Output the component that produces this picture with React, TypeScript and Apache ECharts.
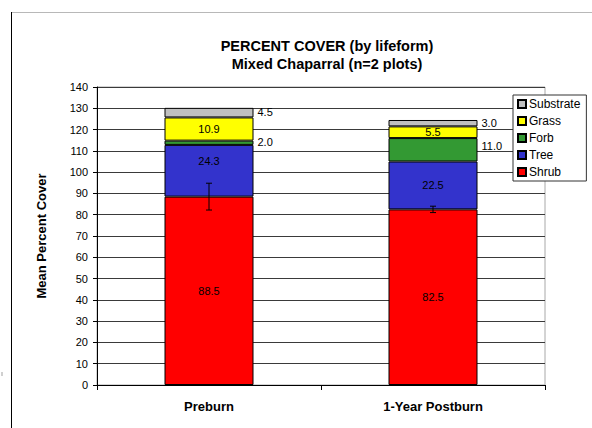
import React, { useEffect, useRef } from "react";
import * as echarts from "echarts";

const categories = ["Preburn", "1-Year Postburn"];
const shrub = [88.5, 82.5];
const tree = [24.3, 22.5];
const forb = [2.0, 11.0];
const grass = [10.9, 5.5];
const substrate = [4.5, 3.0];
const shrubError = [6.3, 1.5];
const yTicks = { min: 0, max: 140, interval: 10 };
const legendOrder = ["Substrate", "Grass", "Forb", "Tree", "Shrub"];

const FONT = "'Liberation Sans', Arial, sans-serif";

export default function App() {
  const ref = useRef<HTMLDivElement>(null);

  useEffect(() => {
    document.body.style.margin = "0";
    if (!ref.current) return;
    const chart = echarts.init(ref.current, undefined, { renderer: "svg" });

    const fmt = (p: any) => Number(p.value).toFixed(1);
    const baseLabel = {
      show: true,
      color: "#000",
      fontSize: 11,
      fontFamily: FONT,
      formatter: fmt,
    };

    const mkSeries = (
      name: string,
      values: number[],
      color: string,
      position: string,
      offsets: (number[] | null)[]
    ) => ({
      name,
      type: "bar",
      stack: "total",
      barWidth: 89,
      itemStyle: { color, borderColor: "#000", borderWidth: 1 },
      label: { ...baseLabel, position, distance: 4 },
      data: values.map((v, i) =>
        offsets[i] ? { value: v, label: { offset: offsets[i] } } : v
      ),
      z: 2,
    });

    const errData = shrub.map((v, i) => [i, v - shrubError[i], v + shrubError[i]]);

    chart.setOption({
      animation: false,
      textStyle: { fontFamily: FONT },
      grid: { left: 97, right: 47, top: 87, bottom: 43, show: true, borderColor: "#a8a8a8", borderWidth: 1 },
      legend: {
        data: legendOrder,
        orient: "vertical",
        left: 513,
        top: 95,
        padding: [3, 6, 3, 4],
        itemWidth: 8,
        itemHeight: 8,
        itemGap: 5,
        icon: "rect",
        backgroundColor: "#fff",
        borderColor: "#333",
        borderWidth: 1,
        textStyle: { fontSize: 12, color: "#000", fontFamily: FONT, padding: [0, 0, 0, -2] },
      },
      xAxis: {
        type: "category",
        data: categories,
        axisLine: { lineStyle: { color: "#000", width: 1 } },
        axisTick: { show: true, length: 5, lineStyle: { color: "#000" } },
        axisLabel: { color: "#000", fontSize: 13, fontWeight: "bold", fontFamily: FONT, margin: 15 },
      },
      yAxis: {
        type: "value",
        min: yTicks.min,
        max: yTicks.max,
        interval: yTicks.interval,
        name: "Mean Percent Cover",
        nameLocation: "middle",
        nameRotate: 90,
        nameGap: 49,
        nameTextStyle: { color: "#000", fontSize: 13, fontWeight: "bold", fontFamily: FONT },
        axisLine: { show: true, lineStyle: { color: "#000", width: 1 } },
        axisTick: { show: true, length: 4, lineStyle: { color: "#000" } },
        axisLabel: { color: "#000", fontSize: 11, fontFamily: FONT, margin: 9 },
        splitLine: { show: true, lineStyle: { color: "#3a3a3a", width: 1 } },
      },
      series: [
        mkSeries("Shrub", shrub, "#ff0000", "inside", [null, null]),
        mkSeries("Tree", tree, "#3333cc", "inside", [[0, -10], null]),
        mkSeries("Forb", forb, "#339933", "right", [[0, -1], [0, -4]]),
        mkSeries("Grass", grass, "#ffff00", "inside", [null, null]),
        mkSeries("Substrate", substrate, "#c0c0c0", "right", [[0, -1], null]),
        {
          name: "ShrubError",
          type: "custom",
          z: 5,
          data: errData,
          renderItem: (params: any, api: any) => {
            const x = api.value(0);
            const lo = api.coord([x, api.value(1)]);
            const hi = api.coord([x, api.value(2)]);
            const s = { stroke: "#000", lineWidth: 1 };
            return {
              type: "group",
              children: [
                { type: "line", shape: { x1: lo[0], y1: lo[1], x2: hi[0], y2: hi[1] }, style: s },
                { type: "line", shape: { x1: lo[0] - 3, y1: lo[1], x2: lo[0] + 3, y2: lo[1] }, style: s },
                { type: "line", shape: { x1: hi[0] - 3, y1: hi[1], x2: hi[0] + 3, y2: hi[1] }, style: s },
              ],
            };
          },
        },
      ],
      graphic: [
        { type: "line", shape: { x1: 11, y1: 12.5, x2: 592, y2: 12.5 }, style: { stroke: "#b8b8b8", lineWidth: 1 } },
        { type: "line", shape: { x1: 11.5, y1: 12, x2: 11.5, y2: 428 }, style: { stroke: "#000", lineWidth: 1 } },
        { type: "rect", shape: { x: 1, y: 372, width: 2, height: 4 }, style: { fill: "#d0d0d0" } },
        {
          type: "text",
          x: 327,
          y: 46,
          style: {
            text: "PERCENT COVER (by lifeform)",
            fontSize: 14.5,
            fontWeight: "bold",
            fontFamily: FONT,
            fill: "#000",
            align: "center",
            verticalAlign: "middle",
          },
        },
        {
          type: "text",
          x: 327,
          y: 64,
          style: {
            text: "Mixed Chaparral (n=2 plots)",
            fontSize: 14.5,
            fontWeight: "bold",
            fontFamily: FONT,
            fill: "#000",
            align: "center",
            verticalAlign: "middle",
          },
        },
      ],
    });

    return () => chart.dispose();
  }, []);

  return (
    <div
      ref={ref}
      style={{ position: "absolute", left: 0, top: 0, width: 592, height: 428 }}
    />
  );
}
